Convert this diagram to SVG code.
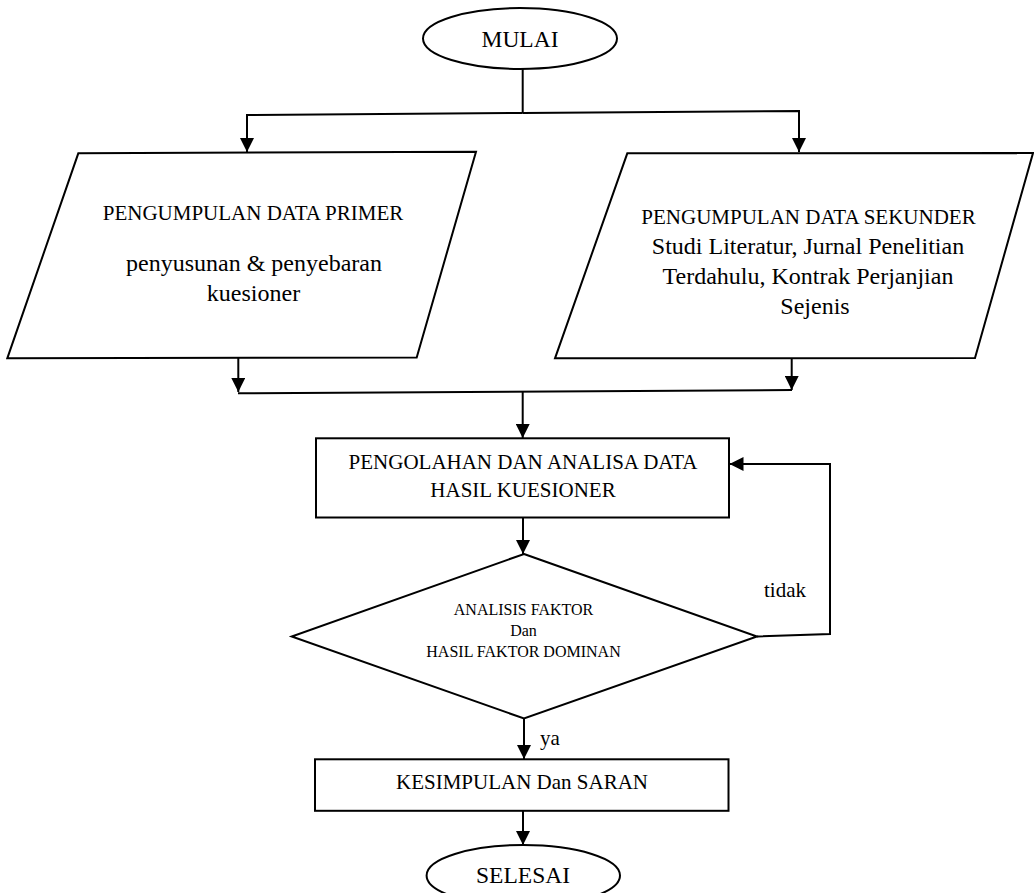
<svg xmlns="http://www.w3.org/2000/svg" width="1034" height="893" viewBox="0 0 1034 893">
<style>
  .shape { fill: #fff; stroke: #000; stroke-width: 2; }
  .conn { fill: none; stroke: #000; stroke-width: 2; }
  text { font-family: "Liberation Serif", "Times New Roman", serif; fill: #000; text-anchor: middle; }
  .t21 { font-size: 21px; }
  .t24 { font-size: 24px; }
  .t16 { font-size: 16px; }
  .t23 { font-size: 23.5px; }
</style>
<defs>
  <marker id="ah" markerWidth="14" markerHeight="14" refX="14" refY="7" orient="auto" markerUnits="userSpaceOnUse">
    <path d="M0,0 L14,7 L0,14 z" fill="#000"/>
  </marker>
</defs>
<rect width="1034" height="893" fill="#fff"/>

<g id="connectors">
  <path class="conn" d="M522.7,69 V113"/>
  <path class="conn" d="M522.7,113 L247,115 V152" marker-end="url(#ah)"/>
  <path class="conn" d="M522.7,113 L799,111 V152" marker-end="url(#ah)"/>
  <path class="conn" d="M238.3,358 V392" marker-end="url(#ah)"/>
  <path class="conn" d="M791.7,358 V390" marker-end="url(#ah)"/>
  <path class="conn" d="M238,393.3 L792,390"/>
  <path class="conn" d="M522.7,391.6 V438" marker-end="url(#ah)"/>
  <path class="conn" d="M523,517.5 V554" marker-end="url(#ah)"/>
  <path class="conn" d="M524,718.5 V759" marker-end="url(#ah)"/>
  <path class="conn" d="M523,811 V845" marker-end="url(#ah)"/>
  <path class="conn" d="M757,636.5 L830,634 V464 H729.5" marker-end="url(#ah)"/>
  <text class="t21" x="550" y="745">ya</text>
  <text class="t21" x="785" y="597.3">tidak</text>
</g>

<g id="mulai">
  <ellipse class="shape" cx="520" cy="38.5" rx="97" ry="30.5"/>
  <text class="t23" x="520" y="46.5">MULAI</text>
</g>

<g id="data-primer">
  <polygon class="shape" points="78.3,153.3 476,151.7 416.7,357.5 7.3,358.3"/>
  <text class="t21" x="253" y="220">PENGUMPULAN DATA PRIMER</text>
  <text class="t24" x="254" y="271">penyusunan &amp; penyebaran</text>
  <text class="t24" x="253.5" y="301">kuesioner</text>
</g>

<g id="data-sekunder">
  <polygon class="shape" points="627.3,153.3 1033,153 975,358 555,358.3"/>
  <text class="t21" x="808.5" y="224">PENGUMPULAN DATA SEKUNDER</text>
  <text class="t24" x="808" y="254">Studi Literatur, Jurnal Penelitian</text>
  <text class="t24" x="808" y="284">Terdahulu, Kontrak Perjanjian</text>
  <text class="t24" x="815" y="314">Sejenis</text>
</g>

<g id="pengolahan">
  <rect class="shape" x="316" y="438.3" width="413" height="79.2"/>
  <text class="t21" x="523" y="469">PENGOLAHAN DAN ANALISA DATA</text>
  <text class="t21" x="523" y="496.7">HASIL KUESIONER</text>
</g>

<g id="analisis">
  <polygon class="shape" points="524,554 757,636.5 524,718.5 291.7,636.5"/>
  <text class="t16" x="523.5" y="615">ANALISIS FAKTOR</text>
  <text class="t16" x="523.5" y="636">Dan</text>
  <text class="t16" x="523.5" y="657.3">HASIL FAKTOR DOMINAN</text>
</g>

<g id="kesimpulan">
  <rect class="shape" x="315" y="759.3" width="413.5" height="51.5"/>
  <text class="t21" x="522" y="789">KESIMPULAN Dan SARAN</text>
</g>

<g id="selesai">
  <ellipse class="shape" cx="523.3" cy="875.5" rx="96.7" ry="30.5"/>
  <text class="t23" x="523" y="883">SELESAI</text>
</g>
</svg>
